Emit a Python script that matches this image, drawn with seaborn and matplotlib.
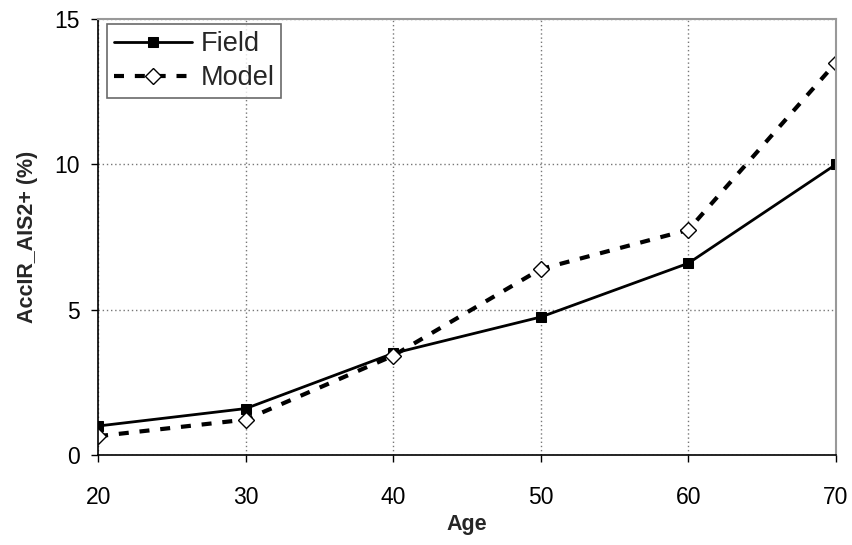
import matplotlib
matplotlib.use("Agg")
import matplotlib.pyplot as plt
import seaborn as sns
import pandas as pd

ages = [20, 30, 40, 50, 60, 70]
field = [1.0, 1.6, 3.5, 4.75, 6.6, 10.0]
model = [0.65, 1.22, 3.42, 6.4, 7.75, 13.5]

df = pd.DataFrame({"Age": ages * 2,
                   "value": field + model,
                   "series": ["Field"] * len(ages) + ["Model"] * len(ages)})

sns.set_style("white")
plt.rcParams["font.family"] = ["Liberation Sans", "DejaVu Sans"]

fig = plt.figure(figsize=(8.53, 5.45), dpi=100)
ax = fig.add_axes([0.115, 0.165, 0.865, 0.800])

sns.lineplot(data=df[df.series == "Field"], x="Age", y="value", ax=ax,
             color="black", lw=2, marker="s", markersize=7,
             markeredgecolor="black", label="Field")
sns.lineplot(data=df[df.series == "Model"], x="Age", y="value", ax=ax,
             color="black", lw=3, linestyle=(0, (2.4, 2.6)), marker="D",
             markersize=8, markerfacecolor="white", markeredgecolor="black",
             markeredgewidth=1, label="Model")

ax.set_xlim(20, 70)
ax.set_ylim(0, 15)
ax.set_xticks(ages)
ax.set_yticks([0, 5, 10, 15])
ax.grid(True, color="#777777", linestyle=(0, (1, 2)), linewidth=1)
ax.tick_params(axis="both", direction="out", length=5, width=1,
               labelsize=16.5, colors="black", bottom=True, left=True)
ax.tick_params(axis="x", pad=17)
ax.tick_params(axis="y", pad=8)

for s in ["left", "bottom"]:
    ax.spines[s].set_color("black")
    ax.spines[s].set_linewidth(1.2)
for s in ["top", "right"]:
    ax.spines[s].set_color("#999999")
    ax.spines[s].set_linewidth(1.5)

ax.set_xlabel("Age", fontsize=15.5, fontweight="bold", labelpad=4)
ax.set_ylabel("AccIR_AIS2+ (%)", fontsize=15.5, fontweight="bold", labelpad=12)

leg = ax.legend(loc="upper left", bbox_to_anchor=(0.012, 0.988), fontsize=19.5,
                frameon=True, fancybox=False, edgecolor="#444444",
                handlelength=2.9, borderpad=0.25, labelspacing=0.3,
                handletextpad=0.3, borderaxespad=0.0)
leg.get_frame().set_linewidth(1.2)

fig.savefig("out.png", dpi=100, facecolor="white")
